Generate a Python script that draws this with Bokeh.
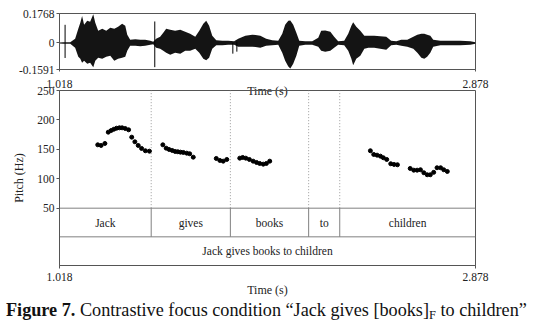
from bokeh.plotting import figure
from bokeh.models import Range1d, FixedTicker, Div
from bokeh.layouts import column
from bokeh.embed import file_html
from bokeh.resources import INLINE
from bokeh.core.properties import value

# ---------------- data ----------------
T_START, T_END = 1.018, 2.878
AMP_MIN, AMP_MAX = -0.1591, 0.1768

# waveform envelope (time s, upper amplitude, lower amplitude)
env_t = [1.018, 1.035, 1.066, 1.088, 1.102, 1.111, 1.119, 1.128, 1.142, 1.155, 1.169, 1.178,
         1.191, 1.209, 1.227, 1.245, 1.263, 1.280, 1.298, 1.312, 1.321, 1.334, 1.357, 1.379,
         1.401, 1.424, 1.437, 1.450, 1.468, 1.482, 1.495, 1.513, 1.535, 1.558, 1.580, 1.602,
         1.625, 1.643, 1.661, 1.674, 1.687, 1.701, 1.719, 1.746, 1.772, 1.799, 1.817, 1.849,
         1.880, 1.916, 1.942, 1.969, 1.996, 2.014, 2.027, 2.041, 2.050, 2.063, 2.077, 2.090,
         2.117, 2.148, 2.175, 2.188, 2.206, 2.229, 2.246, 2.264, 2.291, 2.309, 2.323, 2.331,
         2.345, 2.363, 2.381, 2.399, 2.425, 2.452, 2.479, 2.501, 2.524, 2.546, 2.573, 2.600,
         2.618, 2.636, 2.649, 2.662, 2.676, 2.689, 2.721, 2.765, 2.810, 2.855, 2.878]
env_up = [0.003, 0.005, 0.005, 0.026, 0.085, 0.121, 0.162, 0.109, 0.133, 0.127, 0.173, 0.121,
          0.073, 0.085, 0.073, 0.091, 0.085, 0.097, 0.115, 0.103, 0.050, 0.020, 0.023, 0.020,
          0.020, 0.014, 0.008, 0.026, 0.038, 0.061, 0.085, 0.079, 0.073, 0.079, 0.067, 0.055,
          0.038, 0.073, 0.115, 0.133, 0.103, 0.044, 0.017, 0.014, 0.014, 0.011, 0.026, 0.044,
          0.050, 0.044, 0.026, 0.017, 0.014, 0.055, 0.109, 0.133, 0.135, 0.109, 0.061, 0.014,
          0.011, 0.011, 0.032, 0.073, 0.075, 0.067, 0.038, 0.011, 0.014, 0.055, 0.103, 0.125,
          0.097, 0.073, 0.044, 0.044, 0.044, 0.040, 0.038, 0.014, 0.011, 0.020, 0.020, 0.038,
          0.050, 0.055, 0.055, 0.050, 0.044, 0.020, 0.014, 0.014, 0.014, 0.011, 0.005]
env_lo = [-0.003, -0.004, -0.004, -0.028, -0.082, -0.094, -0.118, -0.106, -0.124, -0.118, -0.146, -0.106,
          -0.088, -0.094, -0.082, -0.076, -0.106, -0.094, -0.088, -0.082, -0.046, -0.016, -0.016, -0.019,
          -0.016, -0.010, -0.007, -0.028, -0.034, -0.046, -0.058, -0.070, -0.058, -0.064, -0.046, -0.046,
          -0.034, -0.058, -0.094, -0.104, -0.088, -0.034, -0.013, -0.013, -0.010, -0.010, -0.022, -0.022,
          -0.022, -0.028, -0.016, -0.013, -0.010, -0.058, -0.106, -0.141, -0.153, -0.124, -0.076, -0.016,
          -0.010, -0.010, -0.022, -0.046, -0.052, -0.046, -0.028, -0.010, -0.013, -0.046, -0.094, -0.134,
          -0.094, -0.076, -0.034, -0.028, -0.028, -0.034, -0.040, -0.013, -0.010, -0.016, -0.022, -0.034,
          -0.058, -0.088, -0.094, -0.082, -0.058, -0.022, -0.013, -0.013, -0.013, -0.010, -0.004]
spike_t = [1.043, 1.444, 1.793, 1.811]
spike_up = [0.109, 0.129, 0.002, 0.008]
spike_lo = [-0.090, -0.145, -0.064, -0.052]

# pitch points (time s, Hz)
pitch_t = [1.189, 1.204, 1.221, 1.236, 1.249, 1.261, 1.273, 1.286, 1.298, 1.312, 1.327, 1.341,
           1.355, 1.370, 1.385, 1.402, 1.420,
           1.480, 1.495, 1.508, 1.522, 1.535, 1.547, 1.559, 1.572, 1.587, 1.600, 1.616,
           1.719, 1.735, 1.750, 1.766,
           1.824, 1.837, 1.851, 1.867, 1.884, 1.899, 1.913, 1.929, 1.943, 1.958,
           2.408, 2.423, 2.438, 2.453, 2.466, 2.481, 2.499, 2.514, 2.529,
           2.586, 2.602, 2.617, 2.632, 2.647, 2.662, 2.676, 2.691, 2.706, 2.722, 2.736, 2.752]
pitch_hz = [157.7, 156.6, 160.0, 179.2, 182.0, 184.2, 185.9, 186.6, 186.6, 185.4, 183.2, 170.7,
            162.8, 156.6, 151.5, 147.6, 146.9,
            157.7, 152.0, 149.8, 148.1, 146.4, 145.9, 145.2, 144.7, 143.5, 142.5, 136.7,
            134.5, 131.1, 129.9, 132.8,
            135.0, 136.2, 135.0, 132.8, 129.9, 127.7, 126.0, 124.8, 126.0, 129.9,
            147.6, 141.3, 140.1, 138.4, 135.7, 132.8, 125.5, 124.3, 123.8,
            117.5, 114.6, 114.6, 115.3, 110.2, 106.8, 106.8, 110.9, 118.7, 118.7, 115.3, 112.4]

words = ["Jack", "gives", "books", "to", "children"]
word_bounds = [1.018, 1.428, 1.782, 2.132, 2.271, 2.878]
sentence = "Jack gives books to children"
pitch_ticks = [50, 100, 150, 200, 250]
wave_ticks = [AMP_MIN, 0, AMP_MAX]
wave_labels = ["-0.1591", "0", "0.1768"]
time_ticks = [T_START, T_END]

# ---------------- layout constants ----------------
FONT = "'Liberation Serif'"
PITCH_MIN, PITCH_MAX = 50, 250
TIER_ROW = 48.7
TIER_MID = PITCH_MIN - TIER_ROW
Y_BOTTOM = PITCH_MIN - 2 * TIER_ROW
FRAME_COL = "#555555"
TIER_COL = "#808080"
W = 525

x_range = Range1d(T_START, T_END)


def style_axes(p):
    for ax in p.axis:
        ax.axis_line_color = FRAME_COL
        ax.major_tick_line_color = FRAME_COL
        ax.minor_tick_line_color = None
        ax.major_tick_in = 0
        ax.major_label_text_font = FONT
        ax.major_label_text_font_size = "11.5px"
        ax.major_label_text_color = "#222222"
        ax.axis_label_text_font = FONT
        ax.axis_label_text_font_size = "12px"
        ax.axis_label_text_font_style = "normal"
        ax.axis_label_text_color = "#222222"
    p.grid.visible = False
    p.outline_line_color = FRAME_COL
    p.outline_line_width = 1


# ---------- waveform ----------
p1 = figure(width=W, height=100, x_range=x_range, y_range=Range1d(AMP_MIN, AMP_MAX),
            output_backend="svg", toolbar_location=None,
            min_border_left=59, min_border_right=W - 475, min_border_top=13, min_border_bottom=31)
style_axes(p1)
p1.xaxis.ticker = FixedTicker(ticks=time_ticks)
p1.xaxis.major_tick_out = 2
p1.xaxis.major_label_standoff = 8
p1.xaxis.axis_label = "Time (s)"
p1.xaxis.axis_label_standoff = -7
p1.yaxis.ticker = FixedTicker(ticks=wave_ticks)
p1.yaxis.major_label_overrides = dict(zip(wave_ticks, wave_labels))
p1.yaxis.major_tick_out = 3
p1.yaxis.major_label_standoff = 2

p1.varea(x=env_t, y1=env_lo, y2=env_up, fill_color="black", fill_alpha=0.92)
p1.segment(x0=spike_t, y0=spike_lo, x1=spike_t, y1=spike_up, line_color="black", line_width=1)

# ---------- pitch + tiers ----------
p2 = figure(width=W, height=216, x_range=x_range, y_range=Range1d(Y_BOTTOM, PITCH_MAX),
            output_backend="svg", toolbar_location=None,
            min_border_left=59, min_border_right=W - 475, min_border_top=6, min_border_bottom=35,
            margin=(-16, 0, 0, 0))
p2.border_fill_color = None
p2.background_fill_color = None
style_axes(p2)
p2.xaxis.ticker = FixedTicker(ticks=time_ticks)
p2.xaxis.major_tick_out = 3
p2.xaxis.major_label_standoff = 4
p2.xaxis.axis_label = "Time (s)"
p2.xaxis.axis_label_standoff = -1
p2.yaxis.ticker = FixedTicker(ticks=pitch_ticks)
p2.yaxis.major_tick_out = 3
p2.yaxis.major_label_standoff = 2
p2.yaxis.axis_label = "Pitch (Hz)"
p2.yaxis.axis_label_standoff = 8

inner = word_bounds[1:-1]
# dotted boundaries in the pitch area
p2.segment(x0=inner, y0=[PITCH_MIN] * len(inner), x1=inner, y1=[PITCH_MAX] * len(inner),
           line_color="#9a9a9a", line_width=1, line_dash="1 2")
# solid boundaries in the word tier
p2.segment(x0=inner, y0=[TIER_MID] * len(inner), x1=inner, y1=[PITCH_MIN] * len(inner),
           line_color=TIER_COL, line_width=1)
# tier horizontal lines
p2.segment(x0=[T_START, T_START], y0=[PITCH_MIN, TIER_MID], x1=[T_END, T_END],
           y1=[PITCH_MIN, TIER_MID], line_color=TIER_COL, line_width=1)

p2.scatter(x=pitch_t, y=pitch_hz, size=4.0, marker="circle", fill_color="black", line_color="black")

centers = [(a + b) / 2 for a, b in zip(word_bounds[:-1], word_bounds[1:])]
p2.text(x=centers, y=[(PITCH_MIN + TIER_MID) / 2] * len(words), text=words,
        text_font=value(FONT), text_font_size=value("11.5px"), text_color="#222222",
        text_align="center", text_baseline="middle")
p2.text(x=[(T_START + T_END) / 2], y=[(TIER_MID + Y_BOTTOM) / 2], text=[sentence],
        text_font=value(FONT), text_font_size=value("11.5px"), text_color="#222222",
        text_align="center", text_baseline="middle")

caption = Div(
    text=('<div style="font-family:\'Liberation Serif\';font-size:18.2px;line-height:20px;'
          'white-space:nowrap;color:#111;">'
          '<b>Figure 7.</b> Contrastive focus condition \u201cJack gives [books]'
          '<span style="font-size:12.5px;position:relative;top:3px;">F</span> to children\u201d</div>'),
    width=527, height=20, margin=(0, 0, 0, 6))

layout = column(p1, p2, caption, spacing=0)

open("out.html", "w").write(file_html(layout, INLINE))
